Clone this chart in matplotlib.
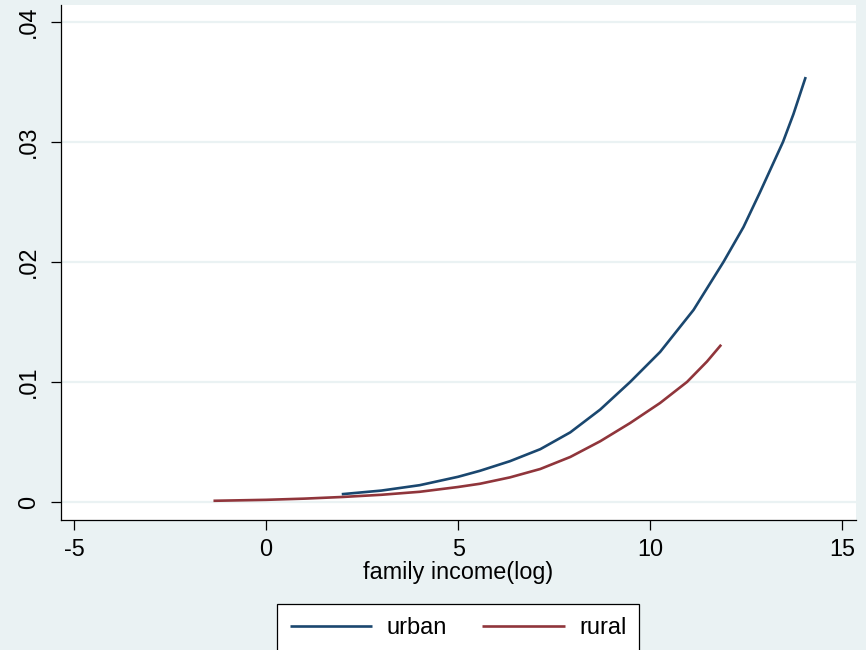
import matplotlib
matplotlib.use("Agg")
import matplotlib.pyplot as plt

# Data
urban_x = [1.97, 3.0, 4.0, 5.0, 5.57, 6.35, 7.14, 7.92, 8.70, 9.48, 10.26,
           11.13, 11.91, 12.43, 12.86, 13.46, 13.73, 14.05]
urban_y = [0.00065, 0.00095, 0.0014, 0.0021, 0.0026, 0.0034, 0.0044, 0.0058,
           0.0077, 0.0100, 0.0125, 0.0160, 0.0200, 0.0229, 0.0258, 0.0300,
           0.0323, 0.0354]
rural_x = [-1.37, 0, 1, 2, 3, 4, 5, 5.57, 6.35, 7.14, 7.92, 8.70, 9.48,
           10.26, 10.96, 11.48, 11.85]
rural_y = [0.0001, 0.00018, 0.00028, 0.00042, 0.0006, 0.00085, 0.00125,
           0.00152, 0.00205, 0.00275, 0.00375, 0.00506, 0.00658, 0.00825,
           0.0100, 0.0117, 0.0131]
x_ticks = [-5, 0, 5, 10, 15]
y_ticks = [0, 0.01, 0.02, 0.03, 0.04]
y_tick_labels = ["0", ".01", ".02", ".03", ".04"]
series_names = ["urban", "rural"]

BG = "#eaf2f3"
NAVY = "#1a476f"
MAROON = "#90353b"

plt.rcParams['font.family'] = ['Liberation Sans', 'DejaVu Sans']

fig = plt.figure(figsize=(8.66, 6.5), dpi=100, facecolor=BG)
ax = fig.add_axes([61/866, 1 - 520/650, (856-61)/866, (520-5)/650])
ax.set_facecolor("white")

ax.plot(urban_x, urban_y, color=NAVY, lw=1.9, label=series_names[0],
        solid_capstyle='butt', solid_joinstyle='round')
ax.plot(rural_x, rural_y, color=MAROON, lw=1.9, label=series_names[1],
        solid_capstyle='butt', solid_joinstyle='round')

ax.set_xlim(-5.34, 15.36)
ax.set_ylim(-0.0015, 0.0414)
ax.set_xticks(x_ticks)
ax.set_xticklabels([str(t) for t in x_ticks])
ax.set_yticks(y_ticks)
ax.set_yticklabels(y_tick_labels)

for lab in ax.get_yticklabels():
    lab.set_rotation(90)
    lab.set_va('center')
    lab.set_ha('right')

ax.tick_params(axis='both', direction='out', length=7, width=0.9, color='black',
               labelsize=16.8, pad=6)
ax.tick_params(axis='y', pad=8)

ax.yaxis.grid(True, color=BG, lw=1.6)
ax.xaxis.grid(False)
ax.set_axisbelow(True)

for s in ['top', 'right']:
    ax.spines[s].set_visible(False)
for s in ['left', 'bottom']:
    ax.spines[s].set_color('black')
    ax.spines[s].set_linewidth(0.9)

ax.set_xlabel("family income(log)", fontsize=16.8, labelpad=0)

leg = fig.legend(loc='upper center', bbox_to_anchor=(458/866, 1 - 604/650),
                 bbox_transform=fig.transFigure, ncol=2, fontsize=17,
                 handlelength=3.5, handletextpad=0.6, columnspacing=1.5,
                 borderpad=0.55, borderaxespad=0, fancybox=False, frameon=True)
leg.get_frame().set_edgecolor('black')
leg.get_frame().set_linewidth(0.9)
leg.get_frame().set_facecolor('white')
leg.get_frame().set_alpha(1)

fig.savefig("out.png", dpi=100, facecolor=BG)
